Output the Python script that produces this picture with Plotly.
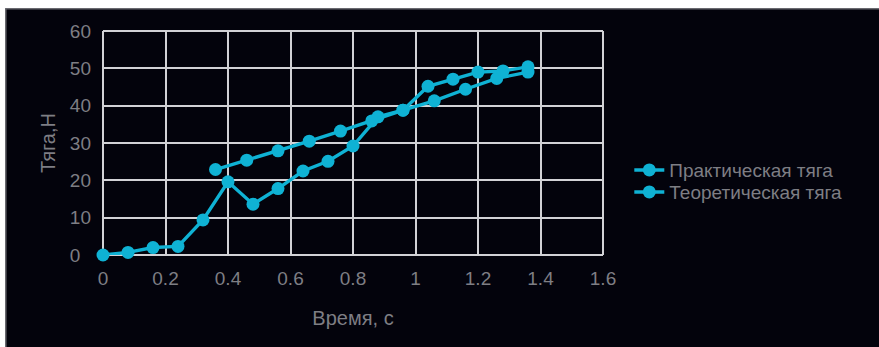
import plotly.graph_objects as go

# Data
practical_x = [0, 0.08, 0.16, 0.24, 0.32, 0.40, 0.48, 0.56, 0.64, 0.72, 0.80, 0.88, 0.96, 1.06, 1.16, 1.26, 1.36]
practical_y = [0, 0.7, 2.0, 2.3, 9.4, 19.6, 13.6, 17.8, 22.5, 25.1, 29.2, 37.0, 38.8, 41.3, 44.4, 47.3, 49.0]

theory_x = [0.36, 0.46, 0.56, 0.66, 0.76, 0.86, 0.96, 1.04, 1.12, 1.20, 1.28, 1.36]
theory_y = [22.9, 25.4, 27.9, 30.5, 33.2, 35.9, 38.8, 45.2, 47.1, 49.0, 49.3, 50.4]

x_ticks = [0, 0.2, 0.4, 0.6, 0.8, 1.0, 1.2, 1.4, 1.6]
x_tick_labels = ["0", "0.2", "0.4", "0.6", "0.8", "1", "1.2", "1.4", "1.6"]
y_ticks = [0, 10, 20, 30, 40, 50, 60]
y_tick_labels = ["0\u2007", "10", "20", "30", "40", "50", "60"]

series_names = ["Практическая тяга", "Теоретическая тяга"]

CYAN = "#0fb2d4"
BG = "#03030c"
GRID = "#d2d2d6"
TXT = "#7e7e84"
FONT = "Liberation Sans, Arial, sans-serif"
FS = 19

W, H = 879, 347
L, R, T, B = 102.7, 276.3, 30.7, 92
pw, ph = W - L - R, H - T - B

def px2paper_x(px):
    return (px - L) / pw

def py2paper_y(py):
    return (H - B - py) / ph

fig = go.Figure()
legends = ["legend", "legend2"]
legend_y = [170, 192]
for name, xs, ys, lg in [(series_names[0], practical_x, practical_y, legends[0]),
                         (series_names[1], theory_x, theory_y, legends[1])]:
    fig.add_trace(go.Scatter(
        x=xs, y=ys, name=name, mode="lines+markers",
        line=dict(color=CYAN, width=3.4),
        marker=dict(color=CYAN, size=13),
        legend=lg, cliponaxis=False,
    ))

leg_common = dict(
    xanchor="left", yanchor="middle",
    font=dict(family=FONT, size=FS, color=TXT),
    bgcolor="rgba(0,0,0,0)", itemwidth=30,
)

fig.update_layout(
    width=W, height=H,
    margin=dict(l=L, r=R, t=T, b=B, pad=0),
    paper_bgcolor=BG, plot_bgcolor=BG,
    font=dict(family=FONT, color=TXT, size=FS),
    showlegend=True,
    legend=dict(x=px2paper_x(629), y=py2paper_y(legend_y[0]), **leg_common),
    legend2=dict(x=px2paper_x(629), y=py2paper_y(legend_y[1]), **leg_common),
    xaxis=dict(
        range=[0, 1.6], tickvals=x_ticks, ticktext=x_tick_labels,
        showgrid=True, gridcolor=GRID, gridwidth=2,
        zeroline=False, showline=False, ticks="", ticklabelstandoff=10,
        tickfont=dict(family=FONT, size=FS, color=TXT),
        title=dict(text="Время, с", font=dict(family=FONT, size=20, color=TXT), standoff=22),
    ),
    yaxis=dict(
        range=[0, 60], tickvals=y_ticks, ticktext=y_tick_labels,
        showgrid=True, gridcolor=GRID, gridwidth=2,
        zeroline=False, showline=False, ticks="", ticklabelstandoff=11,
        tickfont=dict(family=FONT, size=FS, color=TXT),
        title=dict(text="Тяга,Н", font=dict(family=FONT, size=20, color=TXT), standoff=8),
    ),
    shapes=[
        dict(type="line", xref="paper", yref="paper", x0=1, x1=1, y0=0, y1=1,
             line=dict(color=GRID, width=2), layer="below"),
        dict(type="line", xref="paper", yref="paper", x0=0, x1=1, y0=1, y1=1,
             line=dict(color=GRID, width=2), layer="below"),
        dict(type="line", xref="paper", yref="paper", x0=0, x1=0, y0=0, y1=1,
             line=dict(color=GRID, width=2), layer="below"),
        dict(type="line", xref="paper", yref="paper", x0=0, x1=1, y0=0, y1=0,
             line=dict(color=GRID, width=2), layer="below"),
        # white margins of the screenshot
        dict(type="rect", xref="paper", yref="paper",
             x0=px2paper_x(-2), x1=px2paper_x(W + 2), y0=py2paper_y(-2), y1=py2paper_y(8),
             fillcolor="white", line=dict(width=0), layer="above"),
        dict(type="rect", xref="paper", yref="paper",
             x0=px2paper_x(-2), x1=px2paper_x(5), y0=py2paper_y(H + 2), y1=py2paper_y(-2),
             fillcolor="white", line=dict(width=0), layer="above"),
        dict(type="line", xref="paper", yref="paper",
             x0=px2paper_x(5.5), x1=px2paper_x(W + 2), y0=py2paper_y(8.5), y1=py2paper_y(8.5),
             line=dict(color="#6a6a70", width=1.5), layer="above"),
        dict(type="line", xref="paper", yref="paper",
             x0=px2paper_x(5.5), x1=px2paper_x(5.5), y0=py2paper_y(8.5), y1=py2paper_y(H + 2),
             line=dict(color="#6a6a70", width=1.5), layer="above"),
    ],
)

fig.write_html("out.html", config={"displayModeBar": False},
               post_script="document.body.style.margin='0px';")
